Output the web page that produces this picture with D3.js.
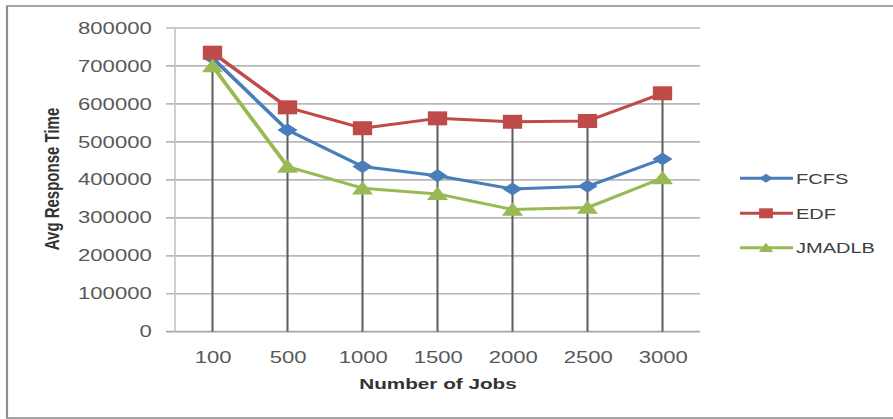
<!DOCTYPE html>
<html>
<head>
<meta charset="utf-8">
<script src="https://cdn.jsdelivr.net/npm/d3@7"></script>
<style>
  html, body { margin: 0; padding: 0; background: #fff; }
  svg { display: block; }
  text { font-family: "Liberation Sans", Arial, sans-serif; }
</style>
</head>
<body>
<div id="chart"></div>
<script>
// ---- data ----
const categories = ["100", "500", "1000", "1500", "2000", "2500", "3000"];
const fcfs   = [721000, 531000, 435000, 411000, 376000, 383000, 455000];
const edf    = [735000, 591000, 536000, 562000, 553000, 555000, 628000];
const jmadlb = [700000, 435000, 378000, 363000, 322000, 327000, 405000];
const seriesNames = ["FCFS", "EDF", "JMADLB"];
const yTicks = [0, 100000, 200000, 300000, 400000, 500000, 600000, 700000, 800000];
const xTitle = "Number of Jobs";
const yTitle = "Avg Response Time";

// ---- layout ----
const W = 893, H = 419;
const s = 1.38;               // horizontal stretch of the original picture
const VW = W / s;
const X = px => px / s;       // pixel x -> view x

const plot = { left: 175, right: 700, top: 28, bottom: 331.7 };

const svg = d3.select("#chart").append("svg")
  .attr("width", W).attr("height", H)
  .attr("viewBox", `0 0 ${VW} ${H}`)
  .attr("preserveAspectRatio", "none");

// outer border
svg.append("rect")
  .attr("x", X(7)).attr("y", 6)
  .attr("width", X(W + 10 - 7)).attr("height", 412)
  .attr("fill", "#fff").attr("stroke", "#8f8f8f").attr("stroke-width", 1.6);

const x = d3.scalePoint().domain(categories)
  .range([X(plot.left), X(plot.right)]).padding(0.5);
const y = d3.scaleLinear().domain([0, 800000]).range([plot.bottom, plot.top]);

// gridlines
svg.append("g").selectAll("line").data(yTicks).join("line")
  .attr("x1", X(166)).attr("x2", X(plot.right))
  .attr("y1", d => y(d)).attr("y2", d => y(d))
  .attr("stroke", d => d === 0 ? "#a6a6a6" : "#b8b8b8")
  .attr("stroke-width", 1.7);

// plot left edge
svg.append("line")
  .attr("x1", X(plot.left)).attr("x2", X(plot.left))
  .attr("y1", plot.top).attr("y2", plot.bottom)
  .attr("stroke", "#c4c4c4").attr("stroke-width", 1.2);

// y axis labels
const yAxis = d3.axisLeft(y).tickValues(yTicks).tickFormat(d3.format("d"))
  .tickSize(0).tickPadding(X(plot.left - 151.7));
const gy = svg.append("g").attr("transform", `translate(${X(plot.left)},0)`).call(yAxis);
gy.select(".domain").remove();
gy.selectAll("text").attr("font-size", 16).attr("fill", "#585858")
  .attr("font-family", "'Liberation Sans', Arial, sans-serif");

// x axis labels
const xAxis = d3.axisBottom(x).tickSize(0).tickPadding(19.5);
const gx = svg.append("g").attr("transform", `translate(0,${plot.bottom})`).call(xAxis);
gx.select(".domain").remove();
gx.selectAll("text").attr("font-size", 16).attr("fill", "#585858")
  .attr("font-family", "'Liberation Sans', Arial, sans-serif");

// drop lines (from highest point to axis)
const allSeries = [fcfs, edf, jmadlb];
svg.append("g").selectAll("line").data(categories).join("line")
  .attr("x1", d => x(d)).attr("x2", d => x(d))
  .attr("y1", (d, i) => y(d3.max(allSeries, sr => sr[i])))
  .attr("y2", y(0))
  .attr("stroke", "#606060").attr("stroke-width", 1.5);

// series
const colors = ["#4A7EBB", "#BE4B48", "#98B954"];
const shapes = [
  r => `M0,${-r * 0.9}L${r},0L0,${r * 0.9}L${-r},0Z`,
  r => `M${-r},${-r}L${r},${-r}L${r},${r}L${-r},${r}Z`,
  r => `M0,${-r}L${r * 1.05},${r * 0.85}L${-r * 1.05},${r * 0.85}Z`
];

const line = d3.line().x((d, i) => x(categories[i])).y(d => y(d));

allSeries.forEach((data, k) => {
  const g = svg.append("g");
  g.append("path").datum(data).attr("d", line)
    .attr("fill", "none").attr("stroke", colors[k]).attr("stroke-width", 3)
    .attr("stroke-linejoin", "round");
  g.selectAll("path.m").data(data).join("path").attr("class", "m")
    .attr("transform", (d, i) => `translate(${x(categories[i])},${y(d)})`)
    .attr("d", shapes[k](k === 1 ? 7 : 7.3))
    .attr("fill", colors[k]);
});

// axis titles
svg.append("text")
  .attr("x", X(438)).attr("y", 389)
  .attr("text-anchor", "middle").attr("font-size", 15).attr("font-weight", "bold")
  .attr("fill", "#333").text(xTitle);

svg.append("text")
  .attr("transform", `translate(${X(59)},179) rotate(-90)`)
  .attr("text-anchor", "middle").attr("font-size", 15).attr("font-weight", "bold")
  .attr("fill", "#333").text(yTitle);

// legend
const legY = [178.3, 213.3, 247.7];
seriesNames.forEach((name, k) => {
  const g = svg.append("g");
  g.append("line")
    .attr("x1", X(740)).attr("x2", X(793))
    .attr("y1", legY[k]).attr("y2", legY[k])
    .attr("stroke", colors[k]).attr("stroke-width", 3);
  g.append("path")
    .attr("transform", `translate(${X(766)},${legY[k]})`)
    .attr("d", shapes[k](5))
    .attr("fill", colors[k]);
  g.append("text")
    .attr("x", X(796)).attr("y", legY[k]).attr("dy", "0.36em")
    .attr("font-size", 14.5).attr("fill", "#404040").text(name);
});
</script>
</body>
</html>
